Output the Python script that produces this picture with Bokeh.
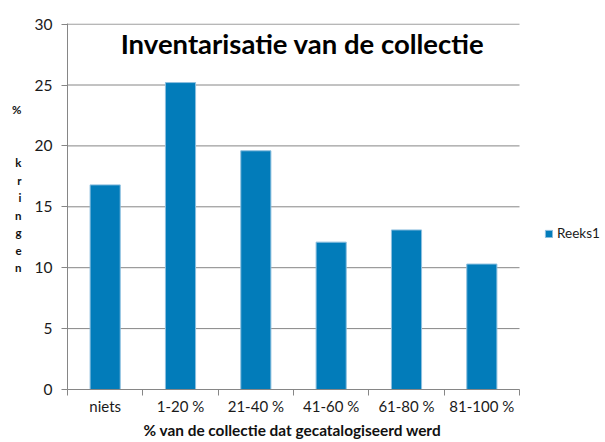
from bokeh.plotting import figure
from bokeh.models import Range1d, FixedTicker, Label, Legend, LegendItem, ColumnDataSource, Title
from bokeh.embed import file_html
from bokeh.resources import INLINE

categories = ["niets", "1-20 %", "21-40 %", "41-60 %", "61-80 %", "81-100 %"]
values = [16.8, 25.2, 19.6, 12.1, 13.1, 10.3]
y_ticks = [0, 5, 10, 15, 20, 25, 30]
series_name = "Reeks1"
title_text = "Inventarisatie van de collectie"
x_title = "% van de collectie dat gecatalogiseerd werd"
y_title = "% kringen"

FONT = "Lato"
GRID = "#868686"
BAR = "#027cba"

n = len(categories)
xs = [i + 0.5 for i in range(n)]
src = ColumnDataSource(dict(x=xs, top=values, cat=categories))
grid_src = ColumnDataSource(dict(x0=[0] * len(y_ticks), x1=[n] * len(y_ticks), y=y_ticks))

# frame extends right to leave room for the legend inside it
p = figure(width=600, height=442, output_backend="svg", toolbar_location=None,
           x_range=Range1d(0, n * 533 / 452), y_range=Range1d(0, 30.05),
           min_border_left=67, min_border_top=23, min_border_bottom=53, min_border_right=0)
p.outline_line_color = None
p.background_fill_color = "white"
p.xgrid.grid_line_color = None
p.ygrid.grid_line_color = None

# horizontal gridlines (only over the category area)
p.segment(x0="x0", x1="x1", y0="y", y1="y", source=grid_src, line_color=GRID, line_width=1)

bars = p.vbar(x="x", top="top", width=0.4, source=src, fill_color=BAR,
              line_color="#8dbfdf", line_width=1)

# x axis
xa = p.xaxis[0]
xa.bounds = (0, n)
xa.ticker = FixedTicker(ticks=xs, minor_ticks=list(range(n + 1)))
xa.major_label_overrides = {x: c for x, c in zip(xs, categories)}
xa.major_tick_out = 0
xa.major_tick_in = 0
xa.minor_tick_out = 6
xa.minor_tick_in = 0
xa.minor_tick_line_color = GRID
xa.axis_line_color = GRID
xa.major_label_text_font = FONT
xa.major_label_text_font_size = "15px"
xa.major_label_text_color = "#1a1a1a"
xa.major_label_standoff = 1

p.add_layout(Title(text=x_title, align="left", offset=76, standoff=2,
                   text_font=FONT, text_font_style="bold", text_font_size="15.4px",
                   text_color="#111111"), "below")

# y axis
parts = y_title.split(" ")
stack = parts[0] + "\n\n\n" + "\n".join(parts[1]) + "\n\n"
ya = p.yaxis[0]
ya.ticker = FixedTicker(ticks=y_ticks, minor_ticks=[])
ya.major_tick_out = 6
ya.major_tick_in = 0
ya.major_tick_line_color = GRID
ya.axis_line_color = GRID
ya.major_label_text_font = FONT
ya.major_label_text_font_size = "15.5px"
ya.major_label_text_color = "#1a1a1a"
ya.major_label_standoff = 9
ya.axis_label = stack
ya.axis_label_orientation = "horizontal"
ya.axis_label_text_font = FONT
ya.axis_label_text_font_style = "bold"
ya.axis_label_text_font_size = "11.5px"
ya.axis_label_text_line_height = 1.35
ya.axis_label_text_align = "center"
ya.axis_label_text_color = "#111111"
ya.axis_label_standoff = 10

# title inside the plot area
p.add_layout(Label(x=235, y=346, x_units="screen", y_units="screen", text=title_text,
                   text_font=FONT, text_font_style="bold", text_font_size="27.5px",
                   text_align="center", text_baseline="alphabetic", text_color="#000000"))

legend = Legend(items=[LegendItem(label=series_name, renderers=[bars])],
                location=(477, 148), orientation="vertical",
                glyph_width=9, glyph_height=9, label_standoff=4, padding=0, margin=0,
                spacing=0, label_height=9, border_line_color=None, background_fill_alpha=0,
                label_text_font=FONT, label_text_font_size="13.5px", label_text_color="#1a1a1a")
p.add_layout(legend)

open("out.html", "w").write(file_html(p, INLINE))
